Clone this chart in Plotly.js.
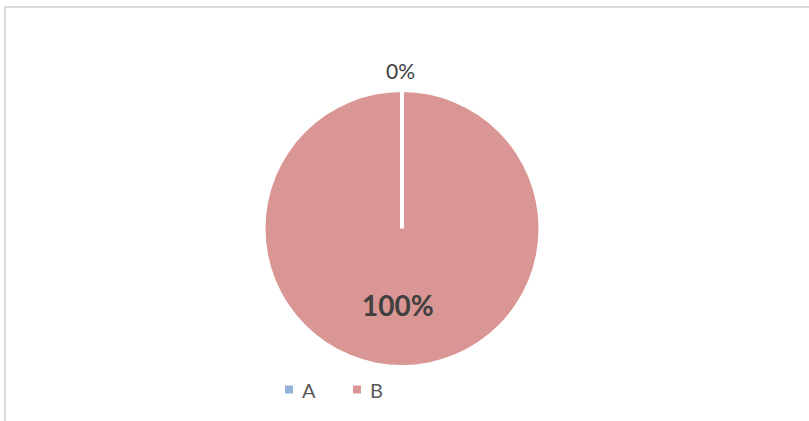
<!DOCTYPE html>
<html>
<head>
<meta charset="utf-8">
<script src="https://cdn.plot.ly/plotly-3.0.1.min.js"></script>
<style>
  html, body { margin: 0; padding: 0; background: #ffffff; overflow: hidden; }
  #chart { position: absolute; left: 0; top: 0; width: 809px; height: 421px; }
  #frame { position: absolute; left: 4px; top: 6px; width: 1000px; height: 600px;
           border-top: 2px solid #d9d9d9; border-left: 2px solid #d9d9d9; pointer-events: none; }
</style>
</head>
<body>
<div id="chart"></div>
<div id="frame"></div>
<script>
const categories = ["A", "B"];
const values = [0, 100];
const colors = ["#95b3d7", "#d99694"];

const W = 809, H = 421;
const total = values.reduce((s, v) => s + v, 0);
const pctLabels = values.map(v => Math.round(v / total * 100) + "%");

// pie geometry (pixels)
const cx = 402, cy = 228.5, r = 136.5;
const px = x => x / W;
const py = y => 1 - y / H;

const trace = {
  type: "pie",
  labels: categories,
  values: values,
  sort: false,
  direction: "clockwise",
  rotation: 0,
  marker: { colors: colors, line: { color: "#ffffff", width: 0 } },
  textinfo: "none",
  hoverinfo: "label+percent",
  domain: { x: [px(cx - r), px(cx + r)], y: [py(cy + r), py(cy - r)] },
  showlegend: false
};

// slice boundary (start of the pie at 12 o'clock)
const shapes = [
  { type: "line", xref: "paper", yref: "paper",
    x0: px(cx), x1: px(cx), y0: py(cy), y1: py(cy - r - 4),
    line: { color: "#ffffff", width: 4 } }
];

// custom legend
const legendY = 389.5;
const legendX = [289, 357];
categories.forEach((c, i) => {
  shapes.push({ type: "rect", xref: "paper", yref: "paper",
    x0: px(legendX[i] - 4), x1: px(legendX[i] + 4),
    y0: py(legendY + 4), y1: py(legendY - 4),
    fillcolor: colors[i], line: { width: 0 } });
});

const annotations = [
  { text: pctLabels[0], x: 0.4945, y: 0.833, xref: "paper", yref: "paper",
    xanchor: "center", yanchor: "middle", showarrow: false,
    font: { size: 21, color: "#404040" } },
  { text: "<b>" + pctLabels[1] + "</b>", x: 0.492, y: 0.276, xref: "paper", yref: "paper",
    xanchor: "center", yanchor: "middle", showarrow: false,
    font: { size: 28, color: "#404040" } }
];
categories.forEach((c, i) => {
  annotations.push({ text: c, xref: "paper", yref: "paper",
    x: px(legendX[i] + 11), y: py(legendY), xanchor: "left", yanchor: "middle",
    showarrow: false, font: { size: 20, color: "#595959" } });
});

const layout = {
  width: W,
  height: H,
  margin: { l: 0, r: 0, t: 0, b: 0 },
  paper_bgcolor: "#ffffff",
  font: { family: "Lato, 'Open Sans', sans-serif", color: "#595959" },
  showlegend: false,
  shapes: shapes,
  annotations: annotations
};

Plotly.newPlot("chart", [trace], layout, { displayModeBar: false, staticPlot: true });
</script>
</body>
</html>
